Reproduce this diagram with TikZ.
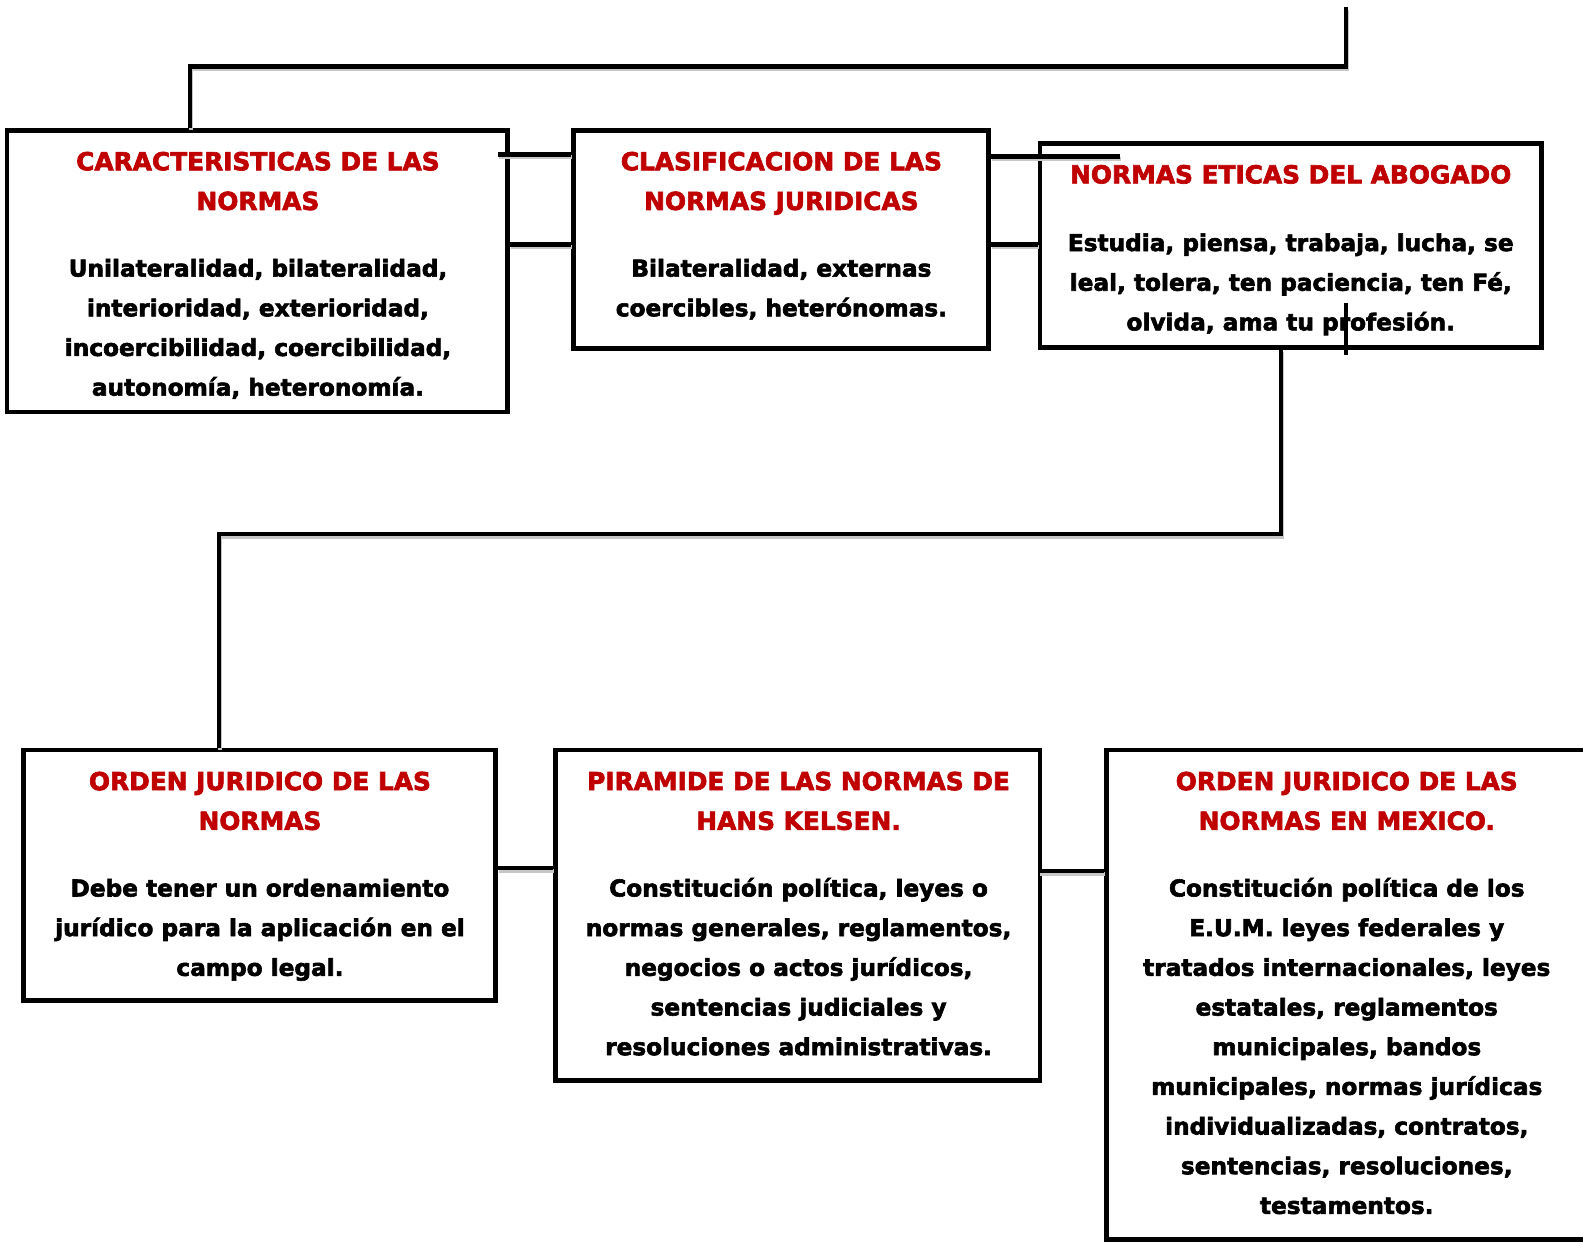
\documentclass[tikz,border=0pt]{standalone}
\usepackage{fontspec}
\setmainfont{DejaVu Sans}
\newfontfamily\heavy[FakeBold=2.6]{DejaVu Sans Bold}
\usetikzlibrary{calc}
\definecolor{titred}{RGB}{192,0,0}
\newcommand{\ttl}[1]{\textcolor{titred}{\fontsize{24.6}{39.3}\selectfont #1}}
\begin{document}
\begin{tikzpicture}[x=1pt,y=-1pt,
  box/.style={draw=black, line width=4.6pt, rectangle, inner sep=0pt, fill=white},
  txt/.style={align=center, inner sep=0pt, anchor=north, font=\heavy\fontsize{23}{39.3}\selectfont},
  conn/.style={line width=4.4pt, draw=black,
    preaction={draw=black!22, line width=4.4pt, transform canvas={shift={(1pt,-2.5pt)}}}}]
\useasboundingbox (0,0) rectangle (1568,1231);
% boxes
\node[box, minimum width=496pt, minimum height=279pt] (b1) at (255,268.5) {};
\node[box, minimum width=411pt, minimum height=216pt] (b2) at (773.5,237) {};
\node[box, minimum width=497pt, minimum height=202pt] (b3) at (1278.5,243) {};
\node[box, minimum width=468pt, minimum height=248pt] (b4) at (257,867) {};
\node[box, minimum width=480pt, minimum height=327pt] (b5) at (790,906.5) {};
\node[box, minimum width=478pt, minimum height=485pt] (b6) at (1335,985.5) {};
% texts
\node[txt] (t1) at (255.5,150.2) {\ttl{CARACTERISTICAS DE LAS}\\\ttl{NORMAS}\\[26.7pt]
Unilateralidad, bilateralidad,\\interioridad, exterioridad,\\incoercibilidad, coercibilidad,\\autonomía, heteronomía.};
\node[txt] (t2) at (774,150.2) {\ttl{CLASIFICACION DE LAS}\\\ttl{NORMAS JURIDICAS}\\[26.7pt]
Bilateralidad, externas\\coercibles, heterónomas.};
\node[txt] (t3) at (1278.5,163.2) {\ttl{NORMAS ETICAS DEL ABOGADO}\\[27.7pt]
Estudia, piensa, trabaja, lucha, se\\leal, tolera, ten paciencia, ten Fé,\\olvida, ama tu profesión.};
\node[txt] (t4) at (257.5,764.2) {\ttl{ORDEN JURIDICO DE LAS}\\\ttl{NORMAS}\\[26.7pt]
Debe tener un ordenamiento\\jurídico para la aplicación en el\\campo legal.};
\node[txt] (t5) at (791,764.2) {\ttl{PIRAMIDE DE LAS NORMAS DE}\\\ttl{HANS KELSEN.}\\[26.7pt]
Constitución política, leyes o\\normas generales, reglamentos,\\negocios o actos jurídicos,\\sentencias judiciales y\\resoluciones administrativas.};
\node[txt] (t6) at (1334,764.2) {\ttl{ORDEN JURIDICO DE LAS}\\\ttl{NORMAS EN MEXICO.}\\[26.7pt]
Constitución política de los\\E.U.M. leyes federales y\\tratados internacionales, leyes\\estatales, reglamentos\\municipales, bandos\\municipales, normas jurídicas\\individualizadas, contratos,\\sentencias, resoluciones,\\testamentos.};
% coordinates
\coordinate (top) at (1333,7);
\coordinate (c1) at (1333,66);
\coordinate (c2) at (188,66);
\coordinate (s1) at (1333,300);
\coordinate (s2) at (1333,352);
\coordinate (k1) at (1269,529);
\coordinate (k2) at (217,529);
% connectors
\draw[conn] (top) -- (c1) -- (c2) -- (b1.north -| c2);
\draw[conn] ($(b1.east |- 0,153)+(-12,0)$) -- (b2.west |- 0,153);
\draw[conn] (b1.east |- 0,242) -- (b2.west |- 0,242);
\draw[conn] (b2.east |- 0,155) -- ($(b3.west |- 0,155)+(82,0)$);
\draw[conn] (b2.east |- 0,242) -- (b3.west |- 0,242);
\draw[conn] (b3.south -| k1) -- (k1) -- (k2) -- (b4.north -| k2);
\draw[conn] (b4.east |- 0,860) -- (b5.west |- 0,860);
\draw[conn] ($(b5.east |- 0,863)+(-3,0)$) -- (b6.west |- 0,863);
\draw[line width=4.4pt] (s1) -- (s2);
\end{tikzpicture}
\end{document}
